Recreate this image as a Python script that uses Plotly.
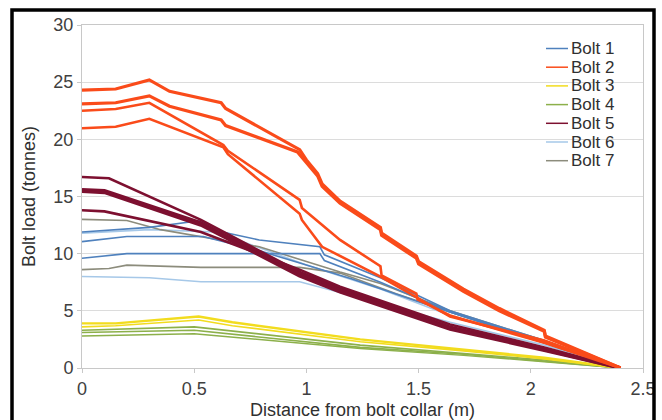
import plotly.graph_objects as go

# ---------------- data ----------------
bolt_names = ["Bolt 1", "Bolt 2", "Bolt 3", "Bolt 4", "Bolt 5", "Bolt 6", "Bolt 7"]

# Bolt 1 (blue) - three readings
bolt1_x = [
    [0, 0.3, 0.53, 0.6, 0.79, 1.06, 1.08, 1.33, 1.64, 2.06, 2.4],
    [0, 0.2, 0.54, 0.8, 1.0, 1.2, 1.5, 2.0, 2.4],
    [0, 0.2, 0.6, 1.06, 1.08, 1.33, 1.64, 2.06, 2.4],
]
bolt1_y = [
    [11.9, 12.3, 12.9, 12.0, 11.2, 10.6, 9.9, 7.9, 5.0, 2.4, 0],
    [11.05, 11.5, 11.5, 10.2, 9.0, 7.8, 5.8, 2.6, 0],
    [9.6, 10.0, 10.0, 10.0, 9.4, 7.5, 4.9, 2.3, 0],
]

# Bolt 2 (orange) - four readings
bolt2_x = [
    [0, 0.15, 0.3, 0.39, 0.62, 0.64, 0.97, 1.0, 1.05, 1.07, 1.15, 1.33, 1.335, 1.49, 1.5, 1.7, 1.86, 2.06, 2.065, 2.4],
    [0, 0.15, 0.3, 0.39, 0.62, 0.64, 0.96, 1.0, 1.05, 1.07, 1.15, 1.33, 1.335, 1.49, 1.5, 1.7, 1.86, 2.06, 2.065, 2.4],
    [0, 0.15, 0.3, 0.63, 0.65, 0.97, 0.98, 1.15, 1.33, 1.335, 1.49, 1.495, 1.64, 2.06, 2.4],
    [0, 0.15, 0.3, 0.63, 0.65, 0.97, 0.98, 1.07, 1.33, 1.49, 1.64, 2.06, 2.4],
]
bolt2_y = [
    [24.3, 24.4, 25.2, 24.2, 23.2, 22.7, 19.1, 18.2, 17.0, 16.1, 14.6, 12.3, 11.8, 9.8, 9.3, 6.9, 5.2, 3.3, 2.8, 0],
    [23.1, 23.2, 23.8, 22.9, 21.7, 21.2, 18.9, 18.0, 16.8, 15.9, 14.4, 12.1, 11.6, 9.6, 9.1, 6.7, 5.0, 3.2, 2.7, 0],
    [22.5, 22.65, 23.2, 19.5, 19.0, 14.7, 14.0, 11.2, 8.9, 8.1, 6.5, 6.0, 4.6, 2.2, 0],
    [20.97, 21.1, 21.8, 19.3, 18.7, 13.5, 12.95, 10.6, 8.0, 6.2, 4.5, 2.4, 0],
]

# Bolt 3 (yellow)
bolt3_x = [
    [0, 0.15, 0.52, 0.67, 1.24, 1.7, 2.06, 2.4],
    [0, 0.15, 0.52, 0.67, 1.24, 1.7, 2.06, 2.4],
]
bolt3_y = [
    [3.9, 3.9, 4.5, 4.0, 2.5, 1.6, 0.9, 0],
    [3.6, 3.7, 4.2, 3.7, 2.3, 1.5, 0.8, 0],
]

# Bolt 4 (green)
bolt4_x = [
    [0, 0.5, 1.24, 1.7, 2.06, 2.4],
    [0, 0.5, 1.24, 1.7, 2.06, 2.4],
    [0, 0.5, 1.24, 1.7, 2.06, 2.4],
]
bolt4_y = [
    [3.3, 3.6, 2.0, 1.3, 0.7, 0],
    [3.1, 3.3, 1.8, 1.2, 0.6, 0],
    [2.8, 3.0, 1.7, 1.1, 0.55, 0],
]

# Bolt 5 (maroon)
bolt5_x = [
    [0, 0.12, 0.53, 0.97, 1.15, 1.64, 2.06, 2.4],
    [0, 0.1, 0.53, 0.97, 1.15, 1.64, 2.06, 2.4],
    [0, 0.1, 0.53, 0.97, 1.15, 1.64, 2.06, 2.4],
    [0, 0.1, 0.53, 0.97, 1.15, 1.64, 2.06, 2.4],
]
bolt5_y = [
    [16.7, 16.6, 12.95, 8.4, 7.0, 3.6, 1.7, 0],
    [15.6, 15.5, 12.7, 8.2, 6.8, 3.5, 1.6, 0],
    [15.45, 15.35, 12.5, 8.05, 6.65, 3.4, 1.55, 0],
    [13.8, 13.7, 11.9, 8.6, 7.1, 3.8, 1.8, 0],
]

# Bolt 6 (light blue)
bolt6_x = [
    [0, 0.3, 0.6, 1.0, 1.33, 1.64, 2.06, 2.4],
    [0, 0.3, 0.53, 0.97, 1.15, 1.33, 1.64, 2.06, 2.4],
]
bolt6_y = [
    [11.8, 12.1, 11.9, 9.0, 6.9, 4.6, 2.2, 0],
    [8.0, 7.9, 7.55, 7.55, 6.6, 5.6, 4.0, 2.0, 0],
]

# Bolt 7 (grey)
bolt7_x = [
    [0, 0.2, 0.35, 0.79, 1.15, 1.33, 1.64, 2.06, 2.4],
    [0, 0.12, 0.2, 0.53, 0.97, 1.15, 1.4, 1.7, 2.06, 2.4],
]
bolt7_y = [
    [13.0, 12.9, 12.1, 10.6, 8.4, 7.4, 5.0, 2.4, 0],
    [8.6, 8.7, 9.0, 8.8, 8.8, 8.3, 6.5, 4.5, 2.2, 0],
]

bolt_colors = ["#4f81bd", "#fa4b1a", "#f2dc1e", "#8cb04a", "#7d1030", "#a6c8e8", "#8c8c7c"]
bolt_widths = [
    [1.6, 1.6, 1.6],
    [3.2, 3.2, 2.6, 2.6],
    [2.4, 1.6],
    [1.6, 1.6, 1.4],
    [2.6, 3.4, 3.4, 2.6],
    [1.6, 1.6],
    [1.6, 1.6],
]

xs = [bolt1_x, bolt2_x, bolt3_x, bolt4_x, bolt5_x, bolt6_x, bolt7_x]
ys = [bolt1_y, bolt2_y, bolt3_y, bolt4_y, bolt5_y, bolt6_y, bolt7_y]

# drawing order (back to front)
draw_order = [5, 6, 0, 3, 2, 4, 1]

fig = go.Figure()
for b in draw_order:
    for k, (xx, yy) in enumerate(zip(xs[b], ys[b])):
        fig.add_trace(go.Scatter(
            x=xx, y=yy, mode="lines",
            name=bolt_names[b], legendgroup=bolt_names[b], showlegend=False,
            line=dict(color=bolt_colors[b], width=bolt_widths[b][k]),
        ))

# ---------------- layout ----------------
W, H = 662, 420
ML, MR, MT, MB = 82, 19, 25, 52
PW, PH = W - ML - MR, H - MT - MB


def px_to_paper(px, py):
    return (px - ML) / PW, (H - MB - py) / PH


# compact Excel-style legend: sample line + label per bolt
legend_shapes, legend_annots = [], []
for i, (nm, col) in enumerate(zip(bolt_names, bolt_colors)):
    cy = 48.5 + 18.7 * i
    x0, yy = px_to_paper(546, cy)
    x1, _ = px_to_paper(568, cy)
    xt, _ = px_to_paper(569, cy)
    legend_shapes.append(dict(type="line", xref="paper", yref="paper",
                              x0=x0, x1=x1, y0=yy, y1=yy,
                              line=dict(color=col, width=1.5)))
    legend_annots.append(dict(text=nm, xref="paper", yref="paper", x=xt, y=yy,
                              xanchor="left", yanchor="middle", showarrow=False,
                              font=dict(size=17, color="#303030")))

fx0, fy1 = px_to_paper(12, 10)
fx1, fy0 = px_to_paper(654, 440)
frame = dict(type="rect", xref="paper", yref="paper",
             x0=fx0, x1=fx1, y0=fy0, y1=fy1,
             line=dict(color="black", width=3.5), fillcolor="rgba(0,0,0,0)", layer="above")

font_family = "Liberation Sans, Arial, sans-serif"
fig.update_layout(
    width=W, height=H,
    margin=dict(l=ML, r=MR, t=MT, b=MB, autoexpand=False),
    paper_bgcolor="white", plot_bgcolor="white",
    showlegend=False,
    font=dict(family=font_family, size=18, color="#404040"),
    xaxis=dict(
        range=[0, 2.5], dtick=0.5, tick0=0, automargin=False,
        showgrid=False, zeroline=False,
        showline=True, linecolor="#c8c8c8", linewidth=1, mirror=True,
        ticks="outside", ticklen=4, tickcolor="#c8c8c8",
        tickfont=dict(size=18, color="#404040"),
        title=dict(text="Distance from bolt collar (m)", font=dict(size=18, color="#303030"), standoff=9),
    ),
    yaxis=dict(
        range=[0, 30], dtick=5, tick0=0, automargin=False,
        showgrid=True, gridcolor="#dcdcdc", gridwidth=1, zeroline=False,
        showline=True, linecolor="#c8c8c8", linewidth=1, mirror=True,
        ticks="outside", ticklen=4, tickcolor="#c8c8c8",
        tickfont=dict(size=18, color="#404040"),
        title=dict(text="Bolt load (tonnes)", font=dict(size=18, color="#303030"), standoff=13),
    ),
    shapes=legend_shapes + [frame],
    annotations=legend_annots,
)

fig.write_html("out.html")
